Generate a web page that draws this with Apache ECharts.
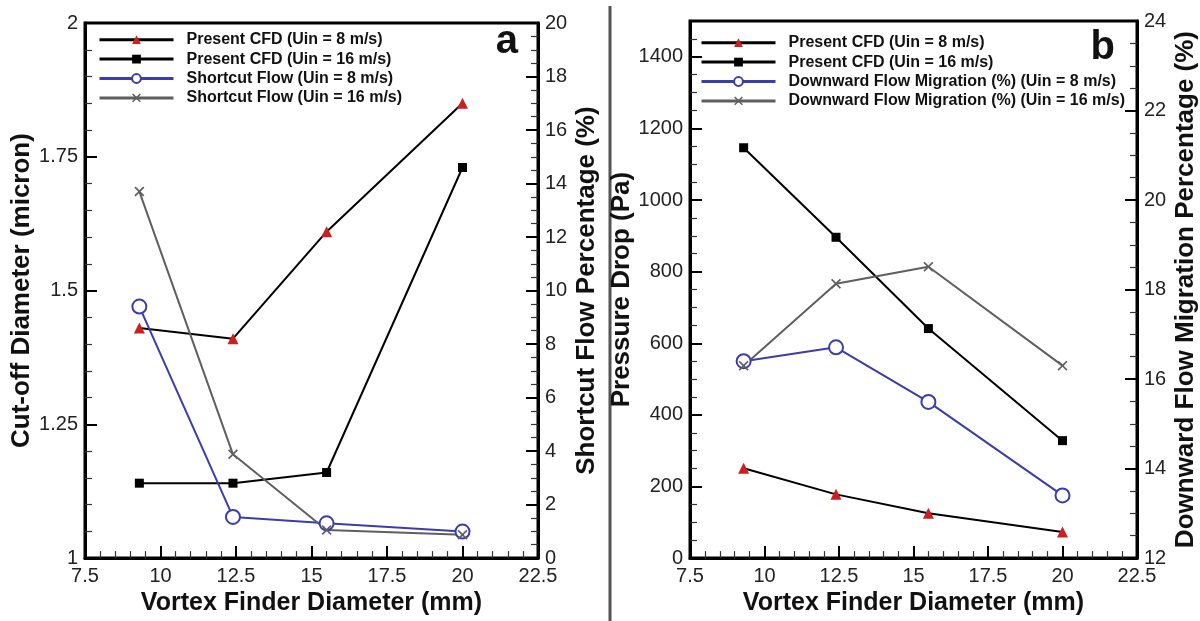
<!DOCTYPE html>
<html>
<head>
<meta charset="utf-8">
<script src="https://cdn.jsdelivr.net/npm/echarts@6/dist/echarts.min.js"></script>
<style>
html,body{margin:0;padding:0;background:#fff;}
#chart{width:1200px;height:621px;}
</style>
</head>
<body>
<div id="chart"></div>
<script>
// ---- data ----
var vortexDiameter = [9.3, 12.4, 15.5, 20];
// panel a
var cutoffCfd8 = [1.43, 1.41, 1.61, 1.85];
var cutoffCfd16 = [1.14, 1.14, 1.16, 1.73];
var shortcut8 = [9.4, 1.54, 1.3, 0.99];
var shortcut16 = [13.7, 3.88, 1.05, 0.87];
// panel b
var pressureCfd8 = [251, 178, 125, 73];
var pressureCfd16 = [1146, 896, 641, 328];
var downward8 = [16.40, 16.71, 15.49, 13.40];
var downward16 = [16.30, 18.13, 18.51, 16.30];

var legendA = ['Present CFD (Uin = 8 m/s)', 'Present CFD (Uin = 16 m/s)', 'Shortcut Flow (Uin = 8 m/s)', 'Shortcut Flow (Uin = 16 m/s)'];
var legendB = ['Present CFD (Uin = 8 m/s)', 'Present CFD (Uin = 16 m/s)', 'Downward Flow Migration (%) (Uin = 8 m/s)', 'Downward Flow Migration (%) (Uin = 16 m/s)'];

function pairs(xs, ys){ return xs.map(function(x,i){ return [x, ys[i]]; }); }

var FONT = 'Liberation Sans, Arial, sans-serif';
var RED = '#cc1f1f', BLUE = '#3a3dab', GRAY = '#5f5f5f';
var XPATH = 'path://M0,1.2 L1.2,0 L5,3.8 L8.8,0 L10,1.2 L6.2,5 L10,8.8 L8.8,10 L5,6.2 L1.2,10 L0,8.8 L3.8,5 Z';
function plain(v){ return String(+v.toFixed(4)); }

function xAxis(gi){
  return {
    type:'value', gridIndex:gi, min:7.5, max:22.5, interval:2.5,
    name:'Vortex Finder Diameter (mm)', nameLocation:'middle', nameGap:26,
    nameTextStyle:{fontFamily:FONT, fontWeight:'bold', fontSize:25, color:'#111'},
    axisLine:{lineStyle:{color:'#000', width:3}},
    axisTick:{inside:true, length:12, lineStyle:{color:'#000', width:2}},
    minorTick:{show:true, splitNumber:5, length:7, lineStyle:{color:'#333', width:1.2}},
    axisLabel:{fontFamily:FONT, fontSize:20, color:'#222', margin:8, formatter:plain},
    splitLine:{show:false}
  };
}
function yAxis(gi, pos, min, max, interval, minorSplit, name, gap, extra){
  var o = {
    type:'value', gridIndex:gi, position:pos, min:min, max:max, interval:interval,
    name:name, nameLocation:'middle', nameGap:gap, nameRotate:90,
    nameTextStyle:{fontFamily:FONT, fontWeight:'bold', fontSize:26, color:'#111'},
    axisLine:{show:true, lineStyle:{color:'#000', width:3}},
    axisTick:{show:true, inside:true, length:12, lineStyle:{color:'#000', width:2}},
    minorTick:{show:true, splitNumber:minorSplit, length:7, lineStyle:{color:'#333', width:1.2}},
    axisLabel:{fontFamily:FONT, fontSize:20, color:'#222', margin:7, formatter:plain},
    splitLine:{show:false}
  };
  if (extra) for (var k in extra) o.axisLabel[k] = extra[k];
  return o;
}
function lineSeries(name, xi, yi, data, kind){
  var s = {type:'line', name:name, xAxisIndex:xi, yAxisIndex:yi, data:data, animation:false, z:3};
  if (kind === 'tri'){
    s.symbol='triangle'; s.symbolSize=11; s.itemStyle={color:RED}; s.lineStyle={color:'#000', width:2};
  } else if (kind === 'sq'){
    s.symbol='rect'; s.symbolSize=9; s.itemStyle={color:'#000'}; s.lineStyle={color:'#000', width:2};
  } else if (kind === 'circ'){
    s.symbol='emptyCircle'; s.symbolSize=14; s.itemStyle={color:BLUE, borderWidth:2}; s.lineStyle={color:BLUE, width:2};
  } else {
    s.symbol=XPATH; s.symbolSize=10; s.itemStyle={color:GRAY}; s.lineStyle={color:GRAY, width:2};
  }
  return s;
}
function legend(data, left, top){
  return {
    data:data, orient:'vertical', left:left, top:top, padding:0,
    itemWidth:74, itemHeight:11, itemGap:0, selectedMode:false,
    lineStyle:{width:3},
    textStyle:{fontFamily:FONT, fontWeight:'bold', fontSize:16, color:'#111', lineHeight:19.4, padding:[0,0,0,8]}
  };
}

var chart = echarts.init(document.getElementById('chart'), null, {renderer:'canvas'});
chart.setOption({
  backgroundColor:'#fff',
  animation:false,
  grid:[
    {left:85, top:23, width:453, height:547, show:true, borderColor:'#000', borderWidth:3, backgroundColor:'transparent'},
    {left:690, top:21, width:448, height:548, show:true, borderColor:'#000', borderWidth:3, backgroundColor:'transparent'}
  ],
  xAxis:[xAxis(0), xAxis(1)],
  yAxis:[
    yAxis(0,'left',1,2,0.25,5,'Cut-off Diameter (micron)',49),
    yAxis(0,'right',0,20,2,4,'Shortcut Flow Percentage (%)',36),
    yAxis(1,'left',0,1500,200,4,'Pressure Drop (Pa)',50,{showMaxLabel:false}),
    yAxis(1,'right',12,24,2,4,'Downward Flow Migration Percentage (%)',36)
  ],
  legend:[legend(legendA, 98, 30), legend(legendB, 700, 33)],
  series:[
    lineSeries(legendA[0],0,0,pairs(vortexDiameter,cutoffCfd8),'tri'),
    lineSeries(legendA[1],0,0,pairs(vortexDiameter,cutoffCfd16),'sq'),
    lineSeries(legendA[2],0,1,pairs(vortexDiameter,shortcut8),'circ'),
    lineSeries(legendA[3],0,1,pairs(vortexDiameter,shortcut16),'x'),
    lineSeries(legendB[0],1,2,pairs(vortexDiameter,pressureCfd8),'tri'),
    lineSeries(legendB[1],1,2,pairs(vortexDiameter,pressureCfd16),'sq'),
    lineSeries(legendB[2],1,3,pairs(vortexDiameter,downward8),'circ'),
    lineSeries(legendB[3],1,3,pairs(vortexDiameter,downward16),'x')
  ],
  graphic:[
    {type:'line', shape:{x1:610, y1:6, x2:610, y2:621}, style:{stroke:'#555', lineWidth:3}},
    {type:'text', right:1200-518, top:22, style:{text:'a', font:'bold 40px "Liberation Sans", Arial, sans-serif', fill:'#111'}},
    {type:'text', right:1200-1115, top:28, style:{text:'b', font:'bold 40px "Liberation Sans", Arial, sans-serif', fill:'#111'}}
  ]
});
</script>
</body>
</html>
